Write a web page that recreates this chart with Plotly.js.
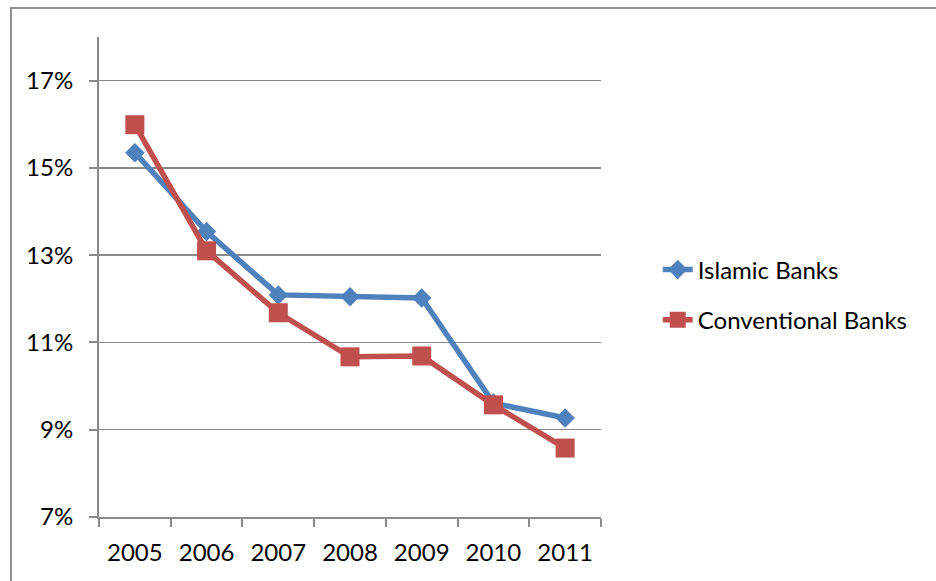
<!DOCTYPE html>
<html>
<head>
<meta charset="utf-8">
<script src="https://cdn.plot.ly/plotly-3.0.1.min.js"></script>
<style>
  html, body { margin: 0; padding: 0; background: #ffffff; }
  #frame { position: absolute; left: 10px; top: 7px; width: 1000px; height: 700px;
           border: 2px solid #8e8e8e; box-sizing: border-box; }
  #chart { position: absolute; left: 0; top: 0; width: 936px; height: 581px; }
</style>
</head>
<body>
<div id="frame"></div>
<div id="chart"></div>
<script>
// Years on the category axis
const years = ['2005', '2006', '2007', '2008', '2009', '2010', '2011'];
// Ratios in percent for each bank type
const islamicBanks = [15.35, 13.54, 12.09, 12.05, 12.02, 9.61, 9.27];
const conventionalBanks = [15.99, 13.10, 11.68, 10.67, 10.69, 9.57, 8.58];
// Value-axis ticks
const yTickVals = [7, 9, 11, 13, 15, 17];
const yTickText = yTickVals.map(v => v + '%');

const font = { family: 'Lato, "Open Sans", sans-serif', size: 24, color: '#000000' };
const gridGray = '#8a8a8a';

const traces = [
  {
    x: years, y: islamicBanks, name: 'Islamic Banks', type: 'scatter', mode: 'lines+markers',
    legendgroup: 'a',
    line: { color: '#4F81BD', width: 5.5 },
    marker: { symbol: 'diamond', size: 15, color: '#4F81BD' }
  },
  {
    x: years, y: conventionalBanks, name: 'Conventional Banks', type: 'scatter', mode: 'lines+markers',
    legendgroup: 'b',
    line: { color: '#C0504D', width: 5.5 },
    marker: { symbol: 'square', size: 19, color: '#C0504D' }
  }
];

const layout = {
  width: 936, height: 581,
  margin: { l: 99, r: 335, t: 37, b: 64 },
  paper_bgcolor: 'rgba(0,0,0,0)',
  plot_bgcolor: 'rgba(0,0,0,0)',
  font: font,
  showlegend: true,
  legend: {
    x: 1.113, y: 0.4625, xanchor: 'left', yanchor: 'middle',
    traceorder: 'grouped', tracegroupgap: 16,
    font: font, bgcolor: 'rgba(0,0,0,0)'
  },
  xaxis: {
    type: 'category',
    range: [-0.5, 6.5],
    showgrid: false,
    showline: true, linecolor: gridGray, linewidth: 2,
    ticks: 'outside', tickson: 'boundaries', ticklen: 8, tickcolor: gridGray, tickwidth: 2,
    ticklabelstandoff: 13,
    tickfont: font,
    zeroline: false
  },
  yaxis: {
    range: [7, 18],
    tickvals: yTickVals, ticktext: yTickText,
    showgrid: true, gridcolor: gridGray, gridwidth: 1.5,
    showline: true, linecolor: gridGray, linewidth: 2,
    ticks: 'outside', ticklen: 8, tickcolor: gridGray, tickwidth: 2,
    ticklabelstandoff: 11,
    tickfont: font,
    zeroline: false
  }
};

Plotly.newPlot('chart', traces, layout, { displayModeBar: false, staticPlot: true });
</script>
</body>
</html>
